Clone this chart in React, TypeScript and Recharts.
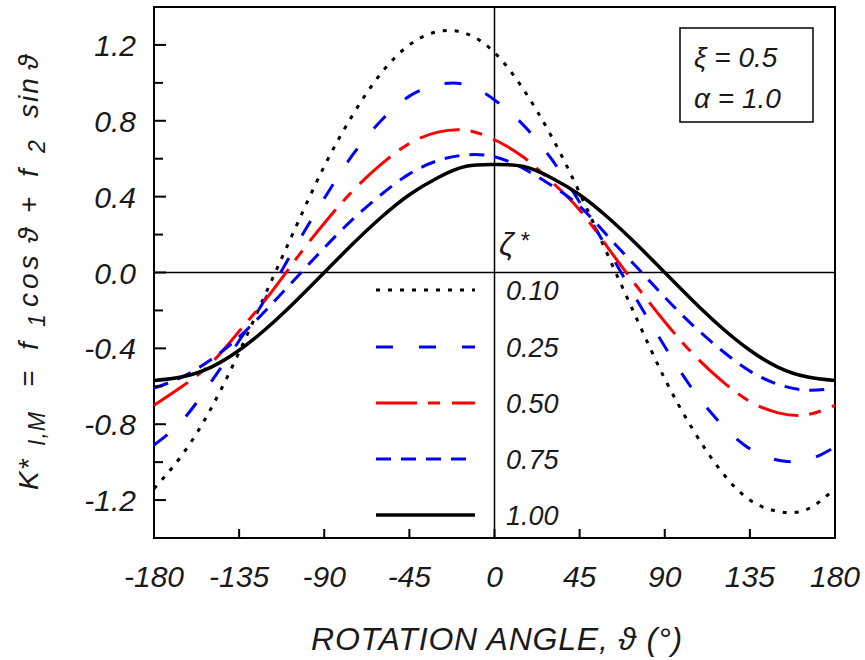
import React from "react";
import {
  LineChart,
  Line,
  XAxis,
  YAxis,
  ReferenceLine,
  ReferenceArea,
} from "recharts";

// rotation angle (deg)
const ANGLES = [
  -180, -165, -150, -135, -120, -105, -90, -75, -60, -45, -30, -15, 0, 15, 30,
  45, 60, 75, 90, 105, 120, 135, 150, 165, 180,
];

// K*_{I,M} for each zeta*
const ZETA_010 = [
  -1.14, -0.96, -0.72, -0.42, -0.09, 0.24, 0.56, 0.83, 1.05, 1.2, 1.27, 1.26,
  1.16, 0.97, 0.72, 0.42, 0.09, -0.24, -0.56, -0.83, -1.05, -1.2, -1.26, -1.25,
  -1.14,
];
const ZETA_025 = [
  -0.91, -0.78, -0.58, -0.36, -0.12, 0.14, 0.39, 0.62, 0.8, 0.93, 0.99, 0.99,
  0.91, 0.78, 0.6, 0.37, 0.12, -0.14, -0.39, -0.62, -0.8, -0.93, -0.99, -0.99,
  -0.92,
];
const ZETA_050 = [
  -0.7, -0.6, -0.48, -0.31, -0.13, 0.07, 0.26, 0.43, 0.57, 0.68, 0.74, 0.75,
  0.7, 0.61, 0.48, 0.33, 0.13, -0.07, -0.26, -0.43, -0.57, -0.68, -0.74, -0.75,
  -0.7,
];
const ZETA_075 = [
  -0.61, -0.55, -0.46, -0.34, -0.19, -0.03, 0.13, 0.28, 0.41, 0.52, 0.59, 0.62,
  0.61, 0.55, 0.46, 0.35, 0.19, 0.03, -0.13, -0.28, -0.41, -0.52, -0.59, -0.62,
  -0.61,
];
const ZETA_100 = [
  -0.57, -0.55, -0.5, -0.41, -0.29, -0.15, 0.0, 0.15, 0.29, 0.41, 0.5, 0.56,
  0.57, 0.56, 0.5, 0.41, 0.29, 0.15, 0.0, -0.15, -0.29, -0.41, -0.5, -0.55,
  -0.57,
];

const ZETA_LABELS = ["0.10", "0.25", "0.50", "0.75", "1.00"];
const X_TICKS = [-180, -135, -90, -45, 0, 45, 90, 135, 180];
const Y_TICKS = [-1.2, -1.0, -0.8, -0.6, -0.4, -0.2, 0, 0.2, 0.4, 0.6, 0.8, 1.0, 1.2];

const SERIES = [
  { key: "z010", values: ZETA_010, color: "#000", dash: "4 8", width: 3 },
  { key: "z025", values: ZETA_025, color: "#0000ff", dash: "17 26", width: 3 },
  { key: "z050", values: ZETA_050, color: "#ff0000", dash: "41 11 12 12", width: 3 },
  { key: "z075", values: ZETA_075, color: "#0000ff", dash: "15 10", width: 3 },
  { key: "z100", values: ZETA_100, color: "#000", dash: undefined, width: 3.5 },
];

// pieces of the rotated y title: text, bottom edge on screen, subscript, letter spacing
const Y_TITLE = [
  { t: "K*", at: 490, sub: false, ls: 1 },
  { t: "I,M", at: 446, sub: true, ls: 1 },
  { t: "=", at: 387, sub: false, ls: 0 },
  { t: "f", at: 350, sub: false, ls: 0 },
  { t: "1", at: 327, sub: true, ls: 0 },
  { t: "cos", at: 307, sub: false, ls: 4 },
  { t: "ϑ", at: 243, sub: false, ls: 0 },
  { t: "+", at: 213, sub: false, ls: 0 },
  { t: "f", at: 177, sub: false, ls: 0 },
  { t: "2", at: 153, sub: true, ls: 0 },
  { t: "sin", at: 118, sub: false, ls: 2 },
  { t: "ϑ", at: 70, sub: false, ls: 0 },
];

const FONT = '"Liberation Sans", Arial, sans-serif';
const TEXT = "#1a1a1a";
const W = 865;
const H = 660;

function XTick(props: any) {
  const { x, y, payload } = props;
  return (
    <g>
      <line x1={x} y1={y} x2={x} y2={y - 9} stroke="#000" strokeWidth={2} />
      <text
        x={x}
        y={y + 49}
        textAnchor="middle"
        fontSize={30}
        fontStyle="italic"
        fontFamily={FONT}
        fill={TEXT}
      >
        {payload.value}
      </text>
    </g>
  );
}

function YTick(props: any) {
  const { x, y, payload } = props;
  const v = payload.value as number;
  const major = Math.round(v * 10) % 4 === 0;
  return (
    <g>
      <line x1={x} y1={y} x2={x + (major ? 12 : 9)} y2={y} stroke="#000" strokeWidth={2} />
      {major && (
        <text
          x={x - 18}
          y={y + 11}
          textAnchor="end"
          fontSize={30}
          fontStyle="italic"
          fontFamily={FONT}
          fill={TEXT}
        >
          {v.toFixed(1)}
        </text>
      )}
    </g>
  );
}

export default function App() {
  const data = ANGLES.map((a, i) => {
    const row: Record<string, number> = { angle: a };
    SERIES.forEach((s) => {
      row[s.key] = s.values[i];
    });
    return row;
  });

  const legendY = [290, 347, 403, 459, 515];

  return (
    <div
      style={{
        position: "absolute",
        left: 0,
        top: 0,
        width: W,
        height: H,
        background: "#fff",
      }}
    >
      <LineChart
        width={W}
        height={H}
        data={data}
        margin={{ top: 7, right: 30, bottom: 62, left: 94 }}
      >
        <XAxis
          dataKey="angle"
          type="number"
          domain={[-180, 180]}
          ticks={X_TICKS}
          interval={0}
          axisLine={false}
          tickLine={false}
          tickSize={0}
          tickMargin={0}
          height={60}
          tick={(p: any) => <XTick {...p} />}
        />
        <YAxis
          type="number"
          domain={[-1.4, 1.4]}
          ticks={Y_TICKS}
          interval={0}
          axisLine={false}
          tickLine={false}
          tickSize={0}
          tickMargin={0}
          width={60}
          tick={(p: any) => <YTick {...p} />}
        />
        <ReferenceLine x={0} stroke="#000" strokeWidth={1.5} />
        <ReferenceLine y={0} stroke="#000" strokeWidth={1.5} />
        {SERIES.map((s) => (
          <Line
            key={s.key}
            dataKey={s.key}
            type="natural"
            stroke={s.color}
            strokeWidth={s.width}
            strokeDasharray={s.dash}
            dot={false}
            activeDot={false}
            isAnimationActive={false}
          />
        ))}
        <ReferenceArea
          x1={-180}
          x2={180}
          y1={-1.4}
          y2={1.4}
          fill="none"
          stroke="#000"
          strokeWidth={2}
          ifOverflow="visible"
        />
      </LineChart>

      <svg
        width={W}
        height={H}
        style={{ position: "absolute", left: 0, top: 0, pointerEvents: "none" }}
        fontFamily={FONT}
        fontStyle="italic"
      >
        {/* y axis title, rotated */}
        <g transform="rotate(-90)">
          {Y_TITLE.map((p, i) => (
            <text
              key={i}
              x={-p.at}
              y={p.sub ? 45 : 38}
              fontSize={p.sub ? 23 : 28}
              letterSpacing={p.ls}
              fill={TEXT}
            >
              {p.t}
            </text>
          ))}
        </g>

        {/* x axis title */}
        <text
          x={497}
          y={650}
          textAnchor="middle"
          fontSize={32}
          letterSpacing={0.8}
          fill={TEXT}
        >
          ROTATION ANGLE, ϑ (°)
        </text>

        {/* legend */}
        <text x={499} y={255} fontSize={32} fill={TEXT}>
          ζ
          <tspan dx={6} dy={-6} fontSize={24}>
            *
          </tspan>
        </text>
        {SERIES.map((s, i) => (
          <g key={s.key}>
            <line
              x1={376}
              y1={legendY[i]}
              x2={475}
              y2={legendY[i]}
              stroke={s.color}
              strokeWidth={s.width}
              strokeDasharray={s.dash}
            />
            <text x={506} y={legendY[i] + 10} fontSize={27} fill={TEXT}>
              {ZETA_LABELS[i]}
            </text>
          </g>
        ))}

        {/* parameter box */}
        <rect x={680} y={28} width={133} height={94} fill="#fff" stroke="#000" strokeWidth={1.5} />
        <text x={694} y={67} fontSize={28} fill={TEXT}>
          ξ = 0.5
        </text>
        <text x={694} y={108} fontSize={28} fill={TEXT}>
          α = 1.0
        </text>
      </svg>
    </div>
  );
}
